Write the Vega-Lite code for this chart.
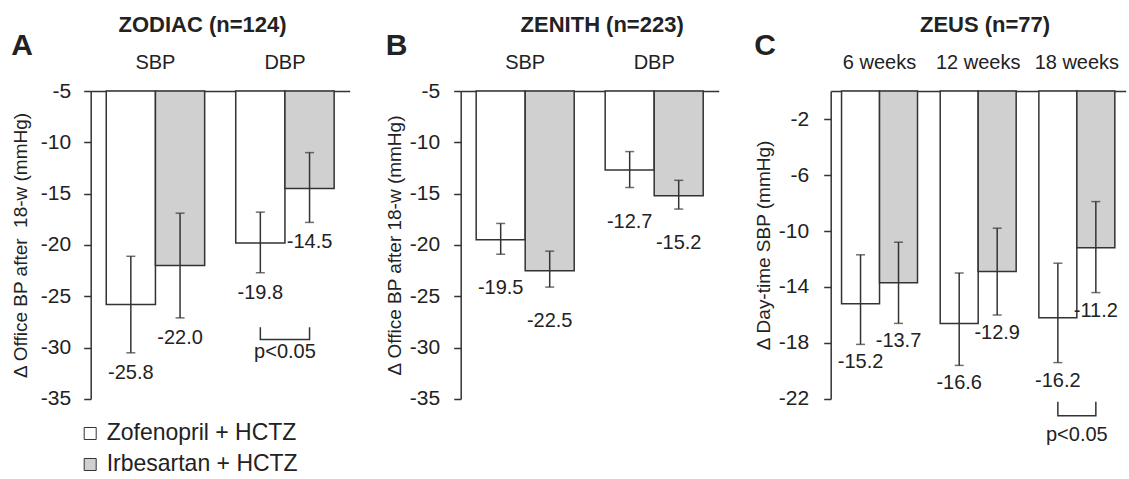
{
  "$schema": "https://vega.github.io/schema/vega-lite/v6.json",
  "background": "white",
  "padding": {"left": 10.7, "top": 14, "right": 2, "bottom": 4},
  "spacing": 35,
  "datasets": {
    "zodiac": [
      {"group": "SBP", "treatment": "Zofenopril + HCTZ", "value": -25.8, "lo": -30.5, "hi": -21.1},
      {"group": "SBP", "treatment": "Irbesartan + HCTZ", "value": -22.0, "lo": -27.1, "hi": -16.9},
      {"group": "DBP", "treatment": "Zofenopril + HCTZ", "value": -19.8, "lo": -22.7, "hi": -16.8},
      {"group": "DBP", "treatment": "Irbesartan + HCTZ", "value": -14.5, "lo": -17.8, "hi": -11.0}
    ],
    "zodiacBracket": [
      {"group": "DBP", "treatment": "Zofenopril + HCTZ", "y": -28.0, "k": 1},
      {"group": "DBP", "treatment": "Zofenopril + HCTZ", "y": -29.2, "k": 2},
      {"group": "DBP", "treatment": "Irbesartan + HCTZ", "y": -29.2, "k": 3},
      {"group": "DBP", "treatment": "Irbesartan + HCTZ", "y": -28.0, "k": 4}
    ],
    "zodiacP": [{"group": "DBP", "y": -30.4, "text": "p<0.05"}],
    "zenith": [
      {"group": "SBP", "treatment": "Zofenopril + HCTZ", "value": -19.5, "lo": -20.9, "hi": -17.9},
      {"group": "SBP", "treatment": "Irbesartan + HCTZ", "value": -22.5, "lo": -24.1, "hi": -20.6},
      {"group": "DBP", "treatment": "Zofenopril + HCTZ", "value": -12.7, "lo": -14.4, "hi": -10.9},
      {"group": "DBP", "treatment": "Irbesartan + HCTZ", "value": -15.2, "lo": -16.5, "hi": -13.7}
    ],
    "zeus": [
      {"group": "6 weeks", "treatment": "Zofenopril + HCTZ", "value": -15.2, "lo": -18.1, "hi": -11.7},
      {"group": "6 weeks", "treatment": "Irbesartan + HCTZ", "value": -13.7, "lo": -16.6, "hi": -10.8},
      {"group": "12 weeks", "treatment": "Zofenopril + HCTZ", "value": -16.6, "lo": -19.6, "hi": -13.0},
      {"group": "12 weeks", "treatment": "Irbesartan + HCTZ", "value": -12.9, "lo": -16.0, "hi": -9.8},
      {"group": "18 weeks", "treatment": "Zofenopril + HCTZ", "value": -16.2, "lo": -19.4, "hi": -12.3},
      {"group": "18 weeks", "treatment": "Irbesartan + HCTZ", "value": -11.2, "lo": -14.4, "hi": -7.9}
    ],
    "zeusBracket": [
      {"group": "18 weeks", "treatment": "Zofenopril + HCTZ", "y": -22.2, "k": 1},
      {"group": "18 weeks", "treatment": "Zofenopril + HCTZ", "y": -23.2, "k": 2},
      {"group": "18 weeks", "treatment": "Irbesartan + HCTZ", "y": -23.2, "k": 3},
      {"group": "18 weeks", "treatment": "Irbesartan + HCTZ", "y": -22.2, "k": 4}
    ],
    "zeusP": [{"group": "18 weeks", "y": -24.6, "text": "p<0.05"}]
  },
  "resolve": {"legend": {"fill": "independent"}, "scale": {"xOffset": "independent"}},
  "hconcat": [
    {
      "title": {"text": "ZODIAC (n=124)", "dx": 22},
      "vconcat": [
        {
          "title": {"text": "A", "anchor": "start", "fontSize": 30, "fontWeight": "bold", "offset": -9},
          "width": 259,
          "height": 308,
          "layer": [
            {
              "data": {"name": "zodiac"},
              "mark": {"type": "bar", "stroke": "#333", "strokeWidth": 1.5},
              "encoding": {
                "x": {"field": "group", "type": "nominal", "sort": ["SBP", "DBP"], "scale": {"paddingInner": 0.24, "paddingOuter": 0.12},
                      "axis": {"orient": "top", "title": null, "ticks": false, "tickSize": 0, "labelAngle": 0, "labelFontSize": 20, "labelPadding": 19}},
                "xOffset": {"field": "treatment", "sort": ["Zofenopril + HCTZ", "Irbesartan + HCTZ"], "scale": {"paddingInner": 0, "paddingOuter": 0}},
                "y": {"field": "value", "type": "quantitative", "scale": {"domain": [-35, -5], "nice": false, "zero": false},
                      "axis": {"values": [-35, -30, -25, -20, -15, -10, -5], "labelPadding": 13, "titlePadding": 10, "title": "Δ Office BP after\u00a0 18-w (mmHg)"}},
                "y2": {"datum": -5},
                "fill": {"field": "treatment", "type": "nominal", "sort": ["Zofenopril + HCTZ", "Irbesartan + HCTZ"],
                         "scale": {"domain": ["Zofenopril + HCTZ", "Irbesartan + HCTZ"], "range": ["#ffffff", "#d0d0d0"]},
                         "legend": {"orient": "none", "legendX": -12, "legendY": 331, "title": null, "symbolType": "square", "symbolSize": 144,
                                    "symbolStrokeColor": "#333", "symbolStrokeWidth": 1, "labelFontSize": 23, "labelOffset": 5, "rowPadding": 7, "labelLimit": 0}}
              }
            },
            {
              "data": {"name": "zodiac"},
              "mark": {"type": "rule", "stroke": "#333", "strokeWidth": 1.5},
              "encoding": {
                "x": {"field": "group", "type": "nominal", "sort": ["SBP", "DBP"]},
                "xOffset": {"field": "treatment", "sort": ["Zofenopril + HCTZ", "Irbesartan + HCTZ"]},
                "y": {"field": "lo", "type": "quantitative"},
                "y2": {"field": "hi"}
              }
            },
            {
              "data": {"name": "zodiac"},
              "mark": {"type": "tick", "color": "#333", "size": 9, "thickness": 1.5},
              "encoding": {
                "x": {"field": "group", "type": "nominal", "sort": ["SBP", "DBP"]},
                "xOffset": {"field": "treatment", "sort": ["Zofenopril + HCTZ", "Irbesartan + HCTZ"]},
                "y": {"field": "lo", "type": "quantitative"}
              }
            },
            {
              "data": {"name": "zodiac"},
              "mark": {"type": "tick", "color": "#333", "size": 9, "thickness": 1.5},
              "encoding": {
                "x": {"field": "group", "type": "nominal", "sort": ["SBP", "DBP"]},
                "xOffset": {"field": "treatment", "sort": ["Zofenopril + HCTZ", "Irbesartan + HCTZ"]},
                "y": {"field": "hi", "type": "quantitative"}
              }
            },
            {
              "data": {"name": "zodiac"},
              "mark": {"type": "text", "fontSize": 20, "dy": 20, "baseline": "middle", "color": "#222"},
              "encoding": {
                "x": {"field": "group", "type": "nominal", "sort": ["SBP", "DBP"]},
                "xOffset": {"field": "treatment", "sort": ["Zofenopril + HCTZ", "Irbesartan + HCTZ"]},
                "y": {"field": "lo", "type": "quantitative"},
                "text": {"field": "value", "type": "quantitative", "format": ".1f"}
              }
            },
            {
              "data": {"name": "zodiacBracket"},
              "mark": {"type": "line", "color": "#333", "strokeWidth": 1.5},
              "encoding": {
                "x": {"field": "group", "type": "nominal", "sort": ["SBP", "DBP"]},
                "xOffset": {"field": "treatment", "sort": ["Zofenopril + HCTZ", "Irbesartan + HCTZ"]},
                "y": {"field": "y", "type": "quantitative"},
                "order": {"field": "k", "type": "quantitative"}
              }
            },
            {
              "data": {"name": "zodiacP"},
              "mark": {"type": "text", "fontSize": 20, "baseline": "middle", "color": "#222"},
              "encoding": {
                "x": {"field": "group", "type": "nominal", "sort": ["SBP", "DBP"]},
                "y": {"field": "y", "type": "quantitative"},
                "text": {"field": "text"}
              }
            }
          ]
        }
      ]
    },
    {
      "title": {"text": "ZENITH (n=223)", "dx": 50},
      "vconcat": [
        {
          "title": {"text": "B", "anchor": "start", "fontSize": 30, "fontWeight": "bold", "offset": -9},
          "width": 258,
          "height": 308,
          "layer": [
            {
              "data": {"name": "zenith"},
              "mark": {"type": "bar", "stroke": "#333", "strokeWidth": 1.5},
              "encoding": {
                "x": {"field": "group", "type": "nominal", "sort": ["SBP", "DBP"], "scale": {"paddingInner": 0.24, "paddingOuter": 0.12},
                      "axis": {"orient": "top", "title": null, "ticks": false, "tickSize": 0, "labelAngle": 0, "labelFontSize": 20, "labelPadding": 19}},
                "xOffset": {"field": "treatment", "sort": ["Zofenopril + HCTZ", "Irbesartan + HCTZ"], "scale": {"paddingInner": 0, "paddingOuter": 0}},
                "y": {"field": "value", "type": "quantitative", "scale": {"domain": [-35, -5], "nice": false, "zero": false},
                      "axis": {"values": [-35, -30, -25, -20, -15, -10, -5], "labelPadding": 14, "titlePadding": 4.7, "title": "Δ Office BP after 18-w (mmHg)"}},
                "y2": {"datum": -5},
                "fill": {"field": "treatment", "type": "nominal",
                         "scale": {"domain": ["Zofenopril + HCTZ", "Irbesartan + HCTZ"], "range": ["#ffffff", "#d0d0d0"]},
                         "legend": null}
              }
            },
            {
              "data": {"name": "zenith"},
              "mark": {"type": "rule", "stroke": "#333", "strokeWidth": 1.5},
              "encoding": {
                "x": {"field": "group", "type": "nominal", "sort": ["SBP", "DBP"]},
                "xOffset": {"field": "treatment", "sort": ["Zofenopril + HCTZ", "Irbesartan + HCTZ"]},
                "y": {"field": "lo", "type": "quantitative"},
                "y2": {"field": "hi"}
              }
            },
            {
              "data": {"name": "zenith"},
              "mark": {"type": "tick", "color": "#333", "size": 9, "thickness": 1.5},
              "encoding": {
                "x": {"field": "group", "type": "nominal", "sort": ["SBP", "DBP"]},
                "xOffset": {"field": "treatment", "sort": ["Zofenopril + HCTZ", "Irbesartan + HCTZ"]},
                "y": {"field": "lo", "type": "quantitative"}
              }
            },
            {
              "data": {"name": "zenith"},
              "mark": {"type": "tick", "color": "#333", "size": 9, "thickness": 1.5},
              "encoding": {
                "x": {"field": "group", "type": "nominal", "sort": ["SBP", "DBP"]},
                "xOffset": {"field": "treatment", "sort": ["Zofenopril + HCTZ", "Irbesartan + HCTZ"]},
                "y": {"field": "hi", "type": "quantitative"}
              }
            },
            {
              "data": {"name": "zenith"},
              "mark": {"type": "text", "fontSize": 20, "dy": 34, "baseline": "middle", "color": "#222"},
              "encoding": {
                "x": {"field": "group", "type": "nominal", "sort": ["SBP", "DBP"]},
                "xOffset": {"field": "treatment", "sort": ["Zofenopril + HCTZ", "Irbesartan + HCTZ"]},
                "y": {"field": "lo", "type": "quantitative"},
                "text": {"field": "value", "type": "quantitative", "format": ".1f"}
              }
            }
          ]
        }
      ]
    },
    {
      "title": {"text": "ZEUS (n=77)", "dx": 45},
      "vconcat": [
        {
          "title": {"text": "C", "anchor": "start", "fontSize": 30, "fontWeight": "bold", "offset": -9},
          "width": 295,
          "height": 308,
          "layer": [
            {
              "data": {"name": "zeus"},
              "mark": {"type": "bar", "stroke": "#333", "strokeWidth": 1.5},
              "encoding": {
                "x": {"field": "group", "type": "nominal", "sort": ["6 weeks", "12 weeks", "18 weeks"], "scale": {"paddingInner": 0.23, "paddingOuter": 0.11},
                      "axis": {"orient": "top", "title": null, "ticks": false, "tickSize": 0, "labelAngle": 0, "labelFontSize": 20, "labelPadding": 19}},
                "xOffset": {"field": "treatment", "sort": ["Zofenopril + HCTZ", "Irbesartan + HCTZ"], "scale": {"paddingInner": 0, "paddingOuter": 0}},
                "y": {"field": "value", "type": "quantitative", "scale": {"domain": [-22, 0], "nice": false, "zero": false},
                      "axis": {"values": [-22, -20, -18, -16, -14, -12, -10, -8, -6, -4, -2, 0], "labelExpr": "datum.value % 4 == -2 ? datum.label : ''",
                               "labelPadding": 15, "titlePadding": 5, "title": "Δ Day-time SBP (mmHg)"}},
                "y2": {"datum": 0},
                "fill": {"field": "treatment", "type": "nominal",
                         "scale": {"domain": ["Zofenopril + HCTZ", "Irbesartan + HCTZ"], "range": ["#ffffff", "#d0d0d0"]},
                         "legend": null}
              }
            },
            {
              "data": {"name": "zeus"},
              "mark": {"type": "rule", "stroke": "#333", "strokeWidth": 1.5},
              "encoding": {
                "x": {"field": "group", "type": "nominal", "sort": ["6 weeks", "12 weeks", "18 weeks"]},
                "xOffset": {"field": "treatment", "sort": ["Zofenopril + HCTZ", "Irbesartan + HCTZ"]},
                "y": {"field": "lo", "type": "quantitative"},
                "y2": {"field": "hi"}
              }
            },
            {
              "data": {"name": "zeus"},
              "mark": {"type": "tick", "color": "#333", "size": 9, "thickness": 1.5},
              "encoding": {
                "x": {"field": "group", "type": "nominal", "sort": ["6 weeks", "12 weeks", "18 weeks"]},
                "xOffset": {"field": "treatment", "sort": ["Zofenopril + HCTZ", "Irbesartan + HCTZ"]},
                "y": {"field": "lo", "type": "quantitative"}
              }
            },
            {
              "data": {"name": "zeus"},
              "mark": {"type": "tick", "color": "#333", "size": 9, "thickness": 1.5},
              "encoding": {
                "x": {"field": "group", "type": "nominal", "sort": ["6 weeks", "12 weeks", "18 weeks"]},
                "xOffset": {"field": "treatment", "sort": ["Zofenopril + HCTZ", "Irbesartan + HCTZ"]},
                "y": {"field": "hi", "type": "quantitative"}
              }
            },
            {
              "data": {"name": "zeus"},
              "mark": {"type": "text", "fontSize": 20, "dy": 18, "baseline": "middle", "color": "#222"},
              "encoding": {
                "x": {"field": "group", "type": "nominal", "sort": ["6 weeks", "12 weeks", "18 weeks"]},
                "xOffset": {"field": "treatment", "sort": ["Zofenopril + HCTZ", "Irbesartan + HCTZ"]},
                "y": {"field": "lo", "type": "quantitative"},
                "text": {"field": "value", "type": "quantitative", "format": ".1f"}
              }
            },
            {
              "data": {"name": "zeusBracket"},
              "mark": {"type": "line", "color": "#333", "strokeWidth": 1.5},
              "encoding": {
                "x": {"field": "group", "type": "nominal", "sort": ["6 weeks", "12 weeks", "18 weeks"]},
                "xOffset": {"field": "treatment", "sort": ["Zofenopril + HCTZ", "Irbesartan + HCTZ"]},
                "y": {"field": "y", "type": "quantitative"},
                "order": {"field": "k", "type": "quantitative"}
              }
            },
            {
              "data": {"name": "zeusP"},
              "mark": {"type": "text", "fontSize": 20, "baseline": "middle", "color": "#222"},
              "encoding": {
                "x": {"field": "group", "type": "nominal", "sort": ["6 weeks", "12 weeks", "18 weeks"]},
                "y": {"field": "y", "type": "quantitative"},
                "text": {"field": "text"}
              }
            }
          ]
        }
      ]
    }
  ],
  "config": {
    "font": "Liberation Sans",
    "locale": {"number": {"decimal": ".", "thousands": ",", "grouping": [3], "currency": ["$", ""], "minus": "-"}},
    "view": {"stroke": null},
    "title": {"fontSize": 22, "fontWeight": "bold", "color": "#222", "anchor": "middle", "offset": -6},
    "axis": {"grid": false, "domainColor": "#333", "domainWidth": 1.5, "tickColor": "#333", "tickWidth": 1.5, "tickSize": 7,
             "labelColor": "#222", "titleColor": "#222", "labelFontSize": 21, "labelPadding": 4, "titleFontSize": 19, "titleFontWeight": "normal", "titlePadding": 10},
    "legend": {"labelColor": "#222"}
  }
}
